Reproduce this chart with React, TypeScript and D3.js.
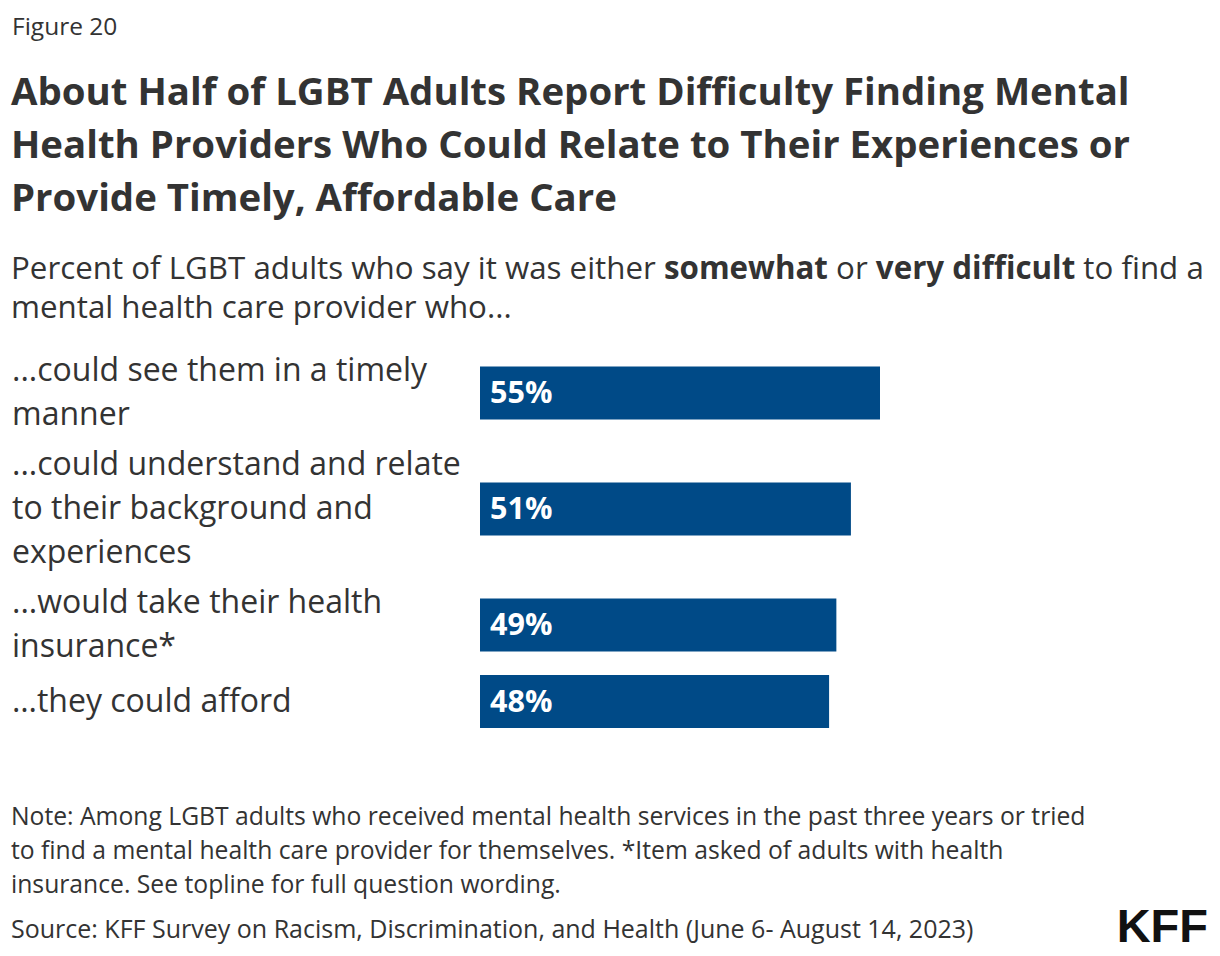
import React from "react";
import * as d3 from "d3";

const categories: string[][] = [
  ["...could see them in a timely", "manner"],
  ["...could understand and relate", "to their background and", "experiences"],
  ["...would take their health", "insurance*"],
  ["\u2026they could afford"],
];
const values: number[] = [55, 51, 49, 48];
const valueLabels: string[] = ["55%", "51%", "49%", "48%"];

const titleLines = [
  "About Half of LGBT Adults Report Difficulty Finding Mental",
  "Health Providers Who Could Relate to Their Experiences or",
  "Provide Timely, Affordable Care",
];
const noteLines = [
  "Note: Among LGBT adults who received mental health services in the past three years or tried",
  "to find a mental health care provider for themselves. *Item asked of adults with health",
  "insurance. See topline for full question wording.",
];
const sourceText = "Source: KFF Survey on Racism, Discrimination, and Health (June 6- August 14, 2023)";

const FONT = "'Open Sans', Lato, sans-serif";
const TEXT = "#333333";
const BAR = "#004a87";

export default function App() {
  const W = 1220;
  const H = 956;
  const barX0 = 480;
  const x = d3.scaleLinear().domain([0, 55]).range([0, 400]);
  const lineH = 44;
  const barH = 53;
  const gap = 6;
  const top0 = 349;

  const rows: { top: number; h: number }[] = [];
  let cur = top0;
  categories.forEach((c) => {
    const h = Math.max(c.length * lineH, barH);
    rows.push({ top: cur, h });
    cur += h + gap;
  });

  return (
    <svg
      width={W}
      height={H}
      style={{ position: "absolute", left: 0, top: 0, background: "#fff" }}
      fontFamily={FONT}
    >
      <rect width={W} height={H} fill="#fff" />
      <text x={12} y={35} fontSize={24.5} fill={TEXT}>
        Figure 20
      </text>
      {titleLines.map((t, i) => (
        <text key={i} x={11} y={105 + i * 53} fontSize={38.4} fontWeight={700} fill={TEXT}>
          {t}
        </text>
      ))}
      <text x={11} y={279} fontSize={31.3} fill={TEXT}>
        Percent of LGBT adults who say it was either{" "}
        <tspan fontWeight={700}>somewhat</tspan> or{" "}
        <tspan fontWeight={700}>very difficult</tspan> to find a
      </text>
      <text x={11} y={318} fontSize={31.3} fill={TEXT}>
        mental health care provider who...
      </text>

      {categories.map((lines, i) => {
        const r = rows[i];
        const textTop = r.top + (r.h - lines.length * lineH) / 2;
        const cy = r.top + r.h / 2;
        return (
          <g key={i}>
            {lines.map((l, j) => (
              <text
                key={j}
                x={12}
                y={textTop + j * lineH + lineH / 2 + 10}
                fontSize={32}
                fill={TEXT}
              >
                {l}
              </text>
            ))}
            <rect x={barX0} y={cy - barH / 2} width={x(values[i])} height={barH} fill={BAR} />
            <text
              x={barX0 + 10}
              y={cy + 10}
              fontSize={30.5}
              fontWeight={700}
              fill="#fff"
            >
              {valueLabels[i]}
            </text>
          </g>
        );
      })}

      {noteLines.map((t, i) => (
        <text key={i} x={11} y={825 + i * 34} fontSize={24.7} fill={TEXT}>
          {t}
        </text>
      ))}
      <text x={11} y={938} fontSize={25} fill={TEXT}>
        {sourceText}
      </text>
      <text x={1208} y={942} fontSize={47} fontWeight={900} fill="#111" textAnchor="end" fontFamily="'Liberation Sans', Arial, sans-serif">
        KFF
      </text>
    </svg>
  );
}
